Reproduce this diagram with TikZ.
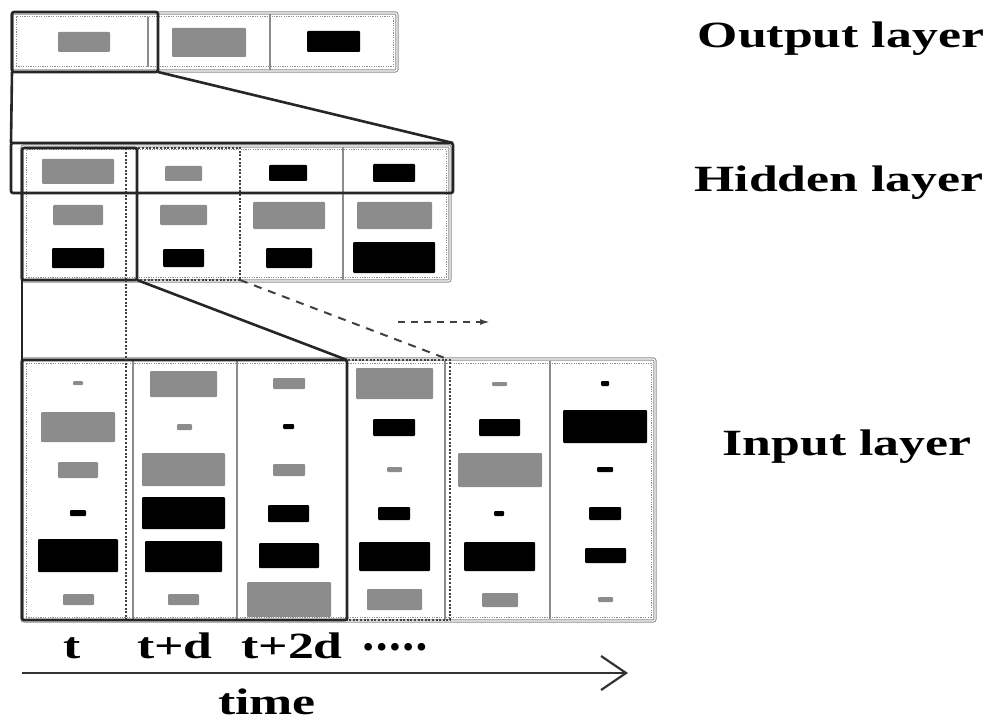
\documentclass[tikz,border=0pt]{standalone}
\usepackage{fontspec}
\setmainfont{Liberation Serif}
\usepackage{graphicx}
\usetikzlibrary{arrows.meta}
\newcommand{\widen}[1]{\scalebox{1.4}[1]{#1}}

\begin{document}
\begin{tikzpicture}[x=1pt,y=-1pt]
	\tikzset{layer/.style = {shape=rectangle,draw=black!45,line width=1pt,double,double distance=1.2pt,rounded corners=2pt,inner sep=0pt,outer sep=0pt}}
	\tikzset{dotbox/.style = {shape=rectangle,draw=black!45,line width=1pt,dash pattern=on 1.2pt off 1.2pt,inner sep=0pt,outer sep=0pt}}
	\tikzset{win/.style = {shape=rectangle,draw=black!85,line width=2.6pt,rounded corners=2pt,inner sep=0pt,outer sep=0pt}}
	\tikzset{dotwin/.style = {shape=rectangle,draw=black!75,line width=2pt,dash pattern=on 2pt off 1.6pt,inner sep=0pt,outer sep=0pt}}
	\tikzset{winline/.style = {draw=black!85,line width=2.6pt}}
	\tikzset{dotline/.style = {draw=black!75,line width=2pt,dash pattern=on 2pt off 1.6pt}}
	\tikzset{dashline/.style = {draw=black!75,line width=2pt,dash pattern=on 8pt off 7pt}}
	\tikzset{divider/.style = {draw=black!45,line width=1.3pt}}
	\tikzset{gunit/.style = {fill=black!45,rounded corners=1pt}}
	\tikzset{bunit/.style = {fill=black,rounded corners=1pt}}
	\tikzset{lbl/.style = {anchor=base,inner sep=0pt,font=\fontsize{37}{40}\selectfont\bfseries}}
	\useasboundingbox (0,0) rectangle (990,722);

	% layers
	\node[layer,minimum width=385pt,minimum height=58pt] (outL) at (204.5,42) {};
	\node[dotbox,minimum width=377pt,minimum height=50pt] (outD) at (204.5,42) {};
	\node[layer,minimum width=428pt,minimum height=135pt] (hidL) at (236,213.5) {};
	\node[dotbox,minimum width=420pt,minimum height=127pt] (hidD) at (236,213.5) {};
	\node[layer,minimum width=633pt,minimum height=262pt] (inL) at (338.5,490) {};
	\node[dotbox,minimum width=625pt,minimum height=254pt] (inD) at (338.5,490) {};

	% cells
	\draw[divider] (148,17) -- (148,67);
	\draw[divider] (270,14) -- (270,70);
	\draw[divider] (343,147) -- (343,280);
	\foreach \x in {133,237,445,550}
		\draw[divider] (\x,361) -- (\x,619);

	% units
	\foreach \xa/\ya/\xb/\yb in {58/32/110/52, 172/28/246/57,
		42/159/114/184, 165/166/202/181, 53/205/103/225, 160/205/207/225, 253/202/325/229, 357/202/432/229,
		73/381/83/385, 41/412/115/442, 58/462/98/478, 63/594/94/605,
		150/371/217/397, 177/424/192/430, 142/453/225/486, 168/594/199/605,
		273/378/305/389, 273/464/305/476, 247/582/331/617,
		356/368/433/399, 387/467/402/472, 367/589/422/610,
		492/382/507/386, 458/453/542/487, 482/593/518/607, 598/597/613/602}
		\fill[gunit] (\xa,\ya) rectangle (\xb,\yb);
	\foreach \xa/\ya/\xb/\yb in {307/31/360/52,
		269/165/307/181, 373/164/415/182, 52/248/104/268, 163/249/204/267, 266/248/312/268, 353/242/435/273,
		70/510/86/516, 38/539/118/572, 142/497/225/529, 145/541/222/572,
		283/424/294/429, 268/505/309/522, 259/543/319/568,
		373/419/415/436, 378/507/410/520, 359/542/430/571,
		479/419/520/436, 494/511/504/516, 464/542/535/571,
		601/381/609/386, 563/410/647/443, 597/467/613/472, 589/507/621/520, 585/548/626/563}
		\fill[bunit] (\xa,\ya) rectangle (\xb,\yb);

	% windows
	\node[dotwin,minimum width=114pt,minimum height=132pt] (h2) at (183,214) {};
	\node[dotwin,minimum width=324pt,minimum height=260pt] (i2) at (288,490) {};
	\node[win,minimum width=115pt,minimum height=132pt] (h1) at (79.5,214) {};
	\node[win,minimum width=325pt,minimum height=260pt] (i1) at (184.5,490) {};
	\node[win,minimum width=146pt,minimum height=60pt] (ow) at (85,42) {};
	\node[win,minimum width=442pt,minimum height=50pt] (hw) at (232,168) {};

	\draw[winline] (ow.south west) -- (hw.north west);
	\draw[winline] (ow.south east) -- (hw.north east);
	\draw[winline] (h1.south west) -- (i1.north west);
	\draw[winline] (h1.south east) -- (i1.north east);
	\draw[dotline] (h2.south west) -- (i2.north west);
	\draw[dashline] (h2.south east) -- (i2.north east);

	\coordinate (sa) at (398,322);
	\coordinate (sb) at (490,322);
	\draw[draw=black!75,line width=1.8pt,dash pattern=on 7pt off 6pt,-{Latex[length=10pt,width=6pt]}] (sa) -- (sb);

	% labels
	\node[lbl] (outlbl) at (841,48) {\widen{Output layer}};
	\node[lbl] (hidlbl) at (839,192) {\widen{Hidden layer}};
	\node[lbl] (inlbl) at (847,455) {\widen{Input layer}};
	\node[lbl] (tA) at (72,658) {\widen{t}};
	\node[lbl] (tB) at (175,658) {\widen{t+d}};
	\node[lbl] (tC) at (292,658) {\widen{t+2d}};
	\node[lbl,font=\fontsize{28}{32}\selectfont\bfseries] (tdots) at (395,656) {•\hspace{3.5pt}•\hspace{3.5pt}•\hspace{3.5pt}•\hspace{3.5pt}•};
	\node[lbl] (timelbl) at (267,714) {\widen{time}};

	% time axis
	\coordinate (t0) at (22,673);
	\coordinate (t1) at (628,673);
	\draw[draw=black!80,line width=2.8pt,-{Straight Barb[length=25pt,width=34pt,line width=2.2pt]}] (t0) -- (t1);
\end{tikzpicture}
\end{document}
